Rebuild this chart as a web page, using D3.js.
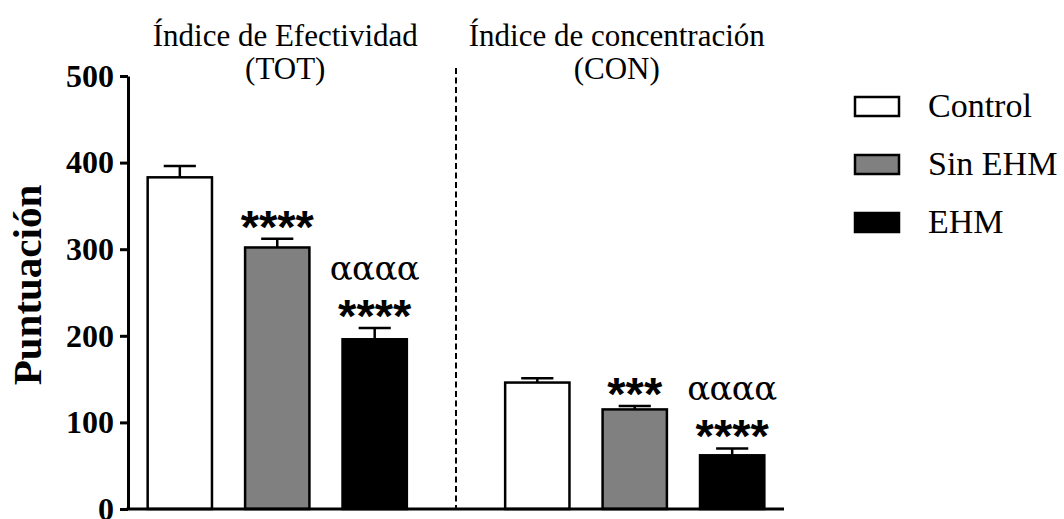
<!DOCTYPE html>
<html>
<head>
<meta charset="utf-8">
<script src="https://cdn.jsdelivr.net/npm/d3@7/dist/d3.min.js"></script>
<style>
  html, body { margin: 0; padding: 0; background: #fff; }
  svg { display: block; }
  .serif { font-family: "Liberation Serif", "Times New Roman", serif; }
  .greek { font-family: "DejaVu Serif", "Liberation Serif", serif; }
  .sig { font-family: "Liberation Sans", Arial, sans-serif; font-weight: bold; }
</style>
</head>
<body>
<svg id="chart" width="1064" height="519"></svg>
<script>
// Groups (test indices) with their two-line headings
const groups = ["TOT", "CON"];
const groupTitles = [
  ["Índice de Efectividad", "(TOT)"],
  ["Índice de concentración", "(CON)"]
];
// Series
const series = ["Control", "Sin EHM", "EHM"];
const seriesFill = ["#ffffff", "#808080", "#000000"];
// Mean scores and SEM per group, in series order
const totMean = [383, 302, 196];
const totSem  = [13, 10, 13];
const conMean = [146, 115, 62];
const conSem  = [5, 4, 8];
// Significance marks per bar (top line first)
const totSig = [[], ["****"], ["αααα", "****"]];
const conSig = [[], ["***"], ["αααα", "****"]];
// Y axis
const yTicks = [0, 100, 200, 300, 400, 500];
const yTitle = "Puntuación";

const rows = [];
groups.forEach((g, gi) => {
  const means = gi === 0 ? totMean : conMean;
  const sems  = gi === 0 ? totSem : conSem;
  const sigs  = gi === 0 ? totSig : conSig;
  series.forEach((s, si) => rows.push({ group: g, series: s, si, mean: means[si], sem: sems[si], sig: sigs[si] }));
});

const svg = d3.select("#chart");

const y = d3.scaleLinear().domain([0, 500]).range([509, 76]);
const x0 = d3.scaleBand().domain(groups).range([128, 784]).paddingInner(0.275).paddingOuter(0.055);
const x1 = d3.scaleBand().domain(series).range([0, x0.bandwidth()]).paddingInner(0.34).paddingOuter(0);

// Dashed separator between the two groups
const sepX = (x0("TOT") + x0.bandwidth() + x0("CON")) / 2;
svg.append("line")
  .attr("x1", sepX).attr("x2", sepX)
  .attr("y1", 68).attr("y2", y(0))
  .attr("stroke", "#000").attr("stroke-width", 2)
  .attr("stroke-dasharray", "6,3.5");

// Bars
const bars = svg.append("g");
bars.selectAll("rect").data(rows).join("rect")
  .attr("x", d => x0(d.group) + x1(d.series))
  .attr("y", d => y(d.mean))
  .attr("width", x1.bandwidth())
  .attr("height", d => y(0) - y(d.mean))
  .attr("fill", d => seriesFill[d.si])
  .attr("stroke", "#000").attr("stroke-width", 2.5);

// Error bars (upper SEM)
const cx = d => x0(d.group) + x1(d.series) + x1.bandwidth() / 2;
const capHalf = x1.bandwidth() / 4;
const err = svg.append("g").attr("stroke", "#000").attr("stroke-width", 2.5);
err.selectAll("line.v").data(rows).join("line").attr("class", "v")
  .attr("x1", cx).attr("x2", cx)
  .attr("y1", d => y(d.mean)).attr("y2", d => y(d.mean + d.sem));
err.selectAll("line.c").data(rows).join("line").attr("class", "c")
  .attr("x1", d => cx(d) - capHalf).attr("x2", d => cx(d) + capHalf)
  .attr("y1", d => y(d.mean + d.sem)).attr("y2", d => y(d.mean + d.sem));

// Significance marks above each bar
rows.forEach(d => {
  const top = y(d.mean + d.sem);
  const n = d.sig.length;
  d.sig.forEach((t, i) => {
    const fromBottom = n - 1 - i;
    if (t.startsWith("*")) {
      svg.append("text").attr("class", "sig")
        .attr("x", cx(d)).attr("y", top + 4 - fromBottom * 31)
        .attr("text-anchor", "middle").attr("font-size", 47)
        .text(t);
    } else {
      svg.append("text").attr("class", "greek")
        .attr("x", cx(d)).attr("y", top - 17 - fromBottom * 31)
        .attr("text-anchor", "middle").attr("font-size", 34)
        .attr("textLength", 90).attr("lengthAdjust", "spacing")
        .text(t);
    }
  });
});

// Axes
const yAxis = svg.append("g")
  .attr("transform", "translate(128,0)")
  .call(d3.axisLeft(y).tickValues(yTicks).tickSize(8).tickSizeOuter(0).tickPadding(6));
yAxis.select(".domain").attr("stroke-width", 3);
yAxis.selectAll(".tick line").attr("stroke-width", 3);
yAxis.selectAll(".tick text")
  .attr("class", "serif").attr("font-weight", "bold").attr("font-size", 32).attr("fill", "#000");

svg.append("line")
  .attr("x1", 126.5).attr("x2", 784)
  .attr("y1", y(0)).attr("y2", y(0))
  .attr("stroke", "#000").attr("stroke-width", 3);

// Y axis title
svg.append("text").attr("class", "serif")
  .attr("transform", "translate(41,285) rotate(-90)")
  .attr("text-anchor", "middle").attr("font-weight", "bold").attr("font-size", 41)
  .text(yTitle);

// Group headings
const titleX = [x0("TOT") + x0.bandwidth() / 2 + 8, x0("CON") + x0.bandwidth() / 2 - 18];
groupTitles.forEach((lines, gi) => {
  lines.forEach((t, li) => {
    svg.append("text").attr("class", "serif")
      .attr("x", titleX[gi]).attr("y", 46 + li * 33)
      .attr("text-anchor", "middle").attr("font-size", 31)
      .text(t);
  });
});

// Legend
const legend = svg.append("g");
series.forEach((s, i) => {
  const top = 97 + i * 58;
  legend.append("rect")
    .attr("x", 855).attr("y", top).attr("width", 44).attr("height", 19)
    .attr("fill", seriesFill[i]).attr("stroke", "#000").attr("stroke-width", 2.5);
  legend.append("text").attr("class", "serif")
    .attr("x", 928).attr("y", top + 20)
    .attr("font-size", 34)
    .text(s);
});
</script>
</body>
</html>
